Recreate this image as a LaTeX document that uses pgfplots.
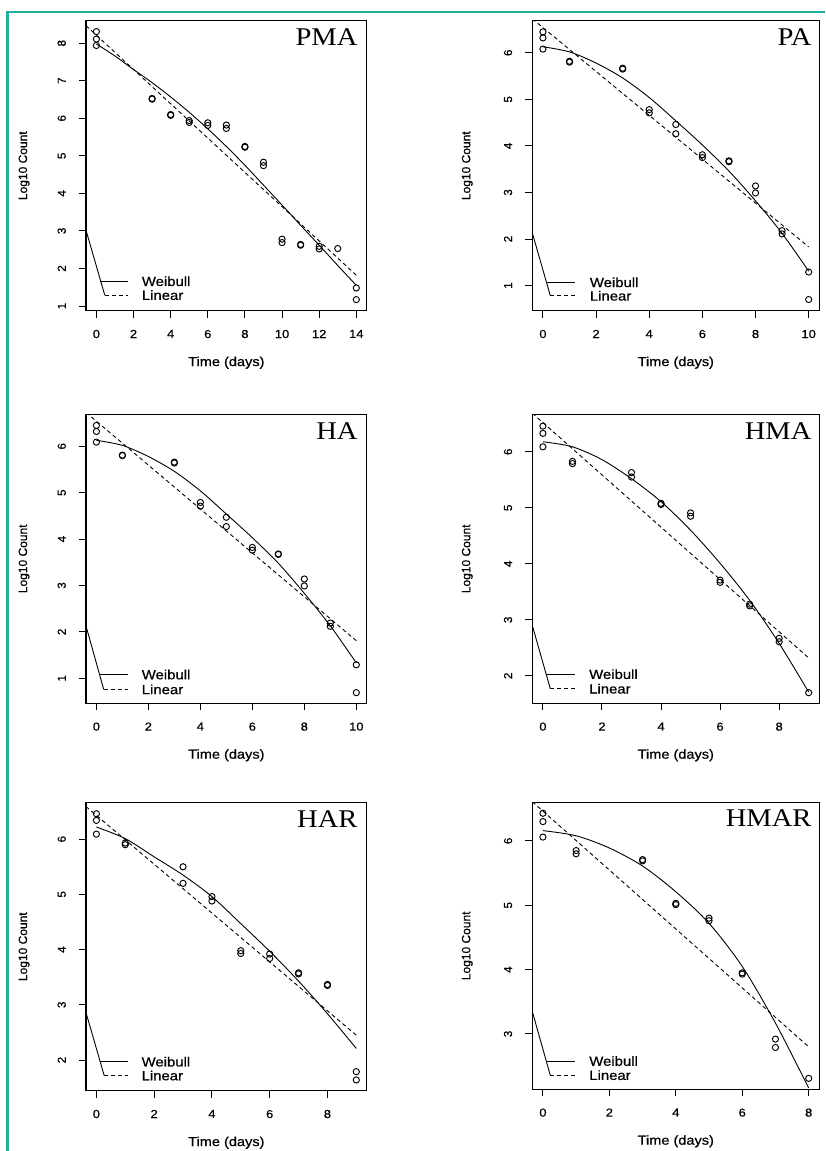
\documentclass[border=0pt]{standalone}
\usepackage{fontspec}
\setmainfont{Liberation Sans}[FakeBold=0.5]
\newfontfamily\widesans{Liberation Sans}[FakeStretch=1.12, FakeBold=0.6]
\newfontfamily\widetitle{Liberation Serif}[FakeStretch=1.12]
\usepackage{pgfplots}
\pgfplotsset{compat=1.18}
\definecolor{frameteal}{HTML}{1FAF9B}

\newcommand\tickfnt{\widesans\fontsize{11.6}{12}\selectfont}
\newcommand\ytickfnt{\fontsize{11.6}{12}\selectfont}
\newcommand\labfnt{\widesans\fontsize{13}{14}\selectfont}
\newcommand\ylabfnt{\fontsize{12}{13}\selectfont}
\newcommand\legfnt{\widesans\fontsize{13.3}{14}\selectfont}
\newcommand\titfnt{\widetitle\fontsize{25.5}{26}\selectfont}

\pgfplotsset{
  rpanel/.style={
    scale only axis, anchor=south west,
    axis line style={line width=1.1pt},
    tick align=outside, major tick length=7pt,
    xtick pos=left, ytick pos=left,
    every tick/.append style={line width=1pt, black},
    /pgf/number format/assume math mode=true,
    xticklabel style={font=\tickfnt, anchor=north, inner sep=0pt},
    yticklabel style={font=\ytickfnt, rotate=90, anchor=south, inner sep=0pt},
    xticklabel shift=12pt, yticklabel shift=13pt,
    xlabel={Time (days)}, ylabel={Log10 Count},
    xlabel style={font=\labfnt, at={(axis description cs:0.5,0)}, anchor=center, yshift=-52pt},
    ylabel style={font=\ylabfnt, anchor=center},
  },
  pts/.style={only marks, mark=o, mark size=3.1pt, line width=0.95pt, black},
  wb/.style={smooth, line width=0.9pt, black, no marks},
  lin/.style={line width=0.9pt, black, no marks, dash pattern=on 4pt off 3pt},
  solidl/.style={line width=0.9pt, black, no marks},
}

\begin{document}
\begin{tikzpicture}
\useasboundingbox (0,0) rectangle (825pt,-1151pt);
\draw[frameteal, line width=2.6pt] (7.2pt,-1151pt) -- (7.2pt,-12pt) -- (825pt,-12pt);

% PMA
\begin{axis}[rpanel, at={(86pt,-310.7pt)}, width=280.7pt, height=290pt,
  xmin=-0.56, xmax=14.56, ymin=0.875, ymax=8.60,
  xtick={0,2,...,14}, ytick={1,...,8},
  ylabel style={at={(axis description cs:-0.2206,0.5)}}]
\addplot[pts] coordinates {(0,8.31) (0,8.11) (0,7.94) (3,6.53) (3,6.51) (4,6.10) (4,6.08)
  (5,5.94) (5,5.89) (6,5.88) (6,5.81) (7,5.82) (7,5.73) (8,5.25) (8,5.23) (9,4.83) (9,4.74)
  (10,2.78) (10,2.69) (11,2.64) (11,2.62) (12,2.59) (12,2.52) (13,2.53) (14,1.48) (14,1.17)};
\addplot[wb] coordinates {(0,7.98) (1,7.66) (2,7.30) (3,6.95) (4,6.57) (5,6.16) (6,5.72) (7,5.25)
  (8,4.75) (9,4.22) (10,3.69) (11,3.15) (12,2.62) (13,2.08) (14,1.55)};
\addplot[lin] coordinates {(-0.56,8.47) (14,1.82)};
\addplot[solidl] coordinates {(-0.56,3.02) (0.45,1.29)};
\addplot[solidl] coordinates {(0.18,1.66) (1.71,1.66)};
\addplot[lin] coordinates {(0.45,1.29) (1.71,1.29)};
\node[anchor=west, font=\legfnt, inner sep=0pt] at (axis cs:2.44,1.66) {Weibull};
\node[anchor=west, font=\legfnt, inner sep=0pt] at (axis cs:2.44,1.29) {Linear};
\node[anchor=base east, font=\titfnt, inner sep=0pt] at ([xshift=-9pt,yshift=-24.4pt]rel axis cs:1,1) {PMA};
\end{axis}

% PA
\begin{axis}[rpanel, at={(532.3pt,-310.7pt)}, width=287pt, height=290pt,
  xmin=-0.4, xmax=10.4, ymin=0.46, ymax=6.69,
  xtick={0,2,...,10}, ytick={1,...,6},
  ylabel style={at={(axis description cs:-0.2265,0.5)}}]
\addplot[pts] coordinates {(0,6.45) (0,6.32) (0,6.08) (1,5.82) (1,5.80) (3,5.67) (3,5.65)
  (4,4.78) (4,4.71) (5,4.46) (5,4.26) (6,3.81) (6,3.75) (7,3.68) (7,3.66) (8,3.14) (8,2.99)
  (9,2.18) (9,2.11) (10,1.29) (10,0.70)};
\addplot[wb] coordinates {(0,6.13) (1,6.02) (2,5.78) (3,5.46) (4,5.04) (5,4.54) (6,4.02) (7,3.46)
  (8,2.82) (9,2.12) (10,1.31)};
\addplot[lin] coordinates {(-0.4,6.73) (10,1.83)};
\addplot[solidl] coordinates {(-0.4,2.13) (0.28,0.78)};
\addplot[solidl] coordinates {(0.13,1.07) (1.22,1.07)};
\addplot[lin] coordinates {(0.28,0.78) (1.22,0.78)};
\node[anchor=west, font=\legfnt, inner sep=0pt] at (axis cs:1.76,1.07) {Weibull};
\node[anchor=west, font=\legfnt, inner sep=0pt] at (axis cs:1.76,0.78) {Linear};
\node[anchor=base east, font=\titfnt, inner sep=0pt] at ([xshift=-7.6pt,yshift=-24.4pt]rel axis cs:1,1) {PA};
\end{axis}

% HA
\begin{axis}[rpanel, at={(86pt,-703.3pt)}, width=280.7pt, height=289pt,
  xmin=-0.4, xmax=10.4, ymin=0.46, ymax=6.69,
  xtick={0,2,...,10}, ytick={1,...,6},
  ylabel style={at={(axis description cs:-0.2206,0.5)}}]
\addplot[pts] coordinates {(0,6.45) (0,6.32) (0,6.09) (1,5.81) (1,5.80) (3,5.66) (3,5.64)
  (4,4.79) (4,4.71) (5,4.47) (5,4.27) (6,3.82) (6,3.76) (7,3.68) (7,3.67) (8,3.14) (8,2.99)
  (9,2.19) (9,2.12) (10,1.29) (10,0.69)};
\addplot[wb] coordinates {(0,6.13) (1,6.02) (2,5.78) (3,5.46) (4,5.04) (5,4.54) (6,4.03) (7,3.48)
  (8,2.83) (9,2.13) (10,1.33)};
\addplot[lin] coordinates {(-0.4,6.73) (10,1.81)};
\addplot[solidl] coordinates {(-0.4,2.13) (0.28,0.76)};
\addplot[solidl] coordinates {(0.13,1.08) (1.22,1.08)};
\addplot[lin] coordinates {(0.28,0.76) (1.22,0.76)};
\node[anchor=west, font=\legfnt, inner sep=0pt] at (axis cs:1.74,1.08) {Weibull};
\node[anchor=west, font=\legfnt, inner sep=0pt] at (axis cs:1.74,0.76) {Linear};
\node[anchor=base east, font=\titfnt, inner sep=0pt] at ([xshift=-9pt,yshift=-25.5pt]rel axis cs:1,1) {HA};
\end{axis}

% HMA
\begin{axis}[rpanel, at={(532.3pt,-703.3pt)}, width=287pt, height=289pt,
  xmin=-0.36, xmax=9.36, ymin=1.51, ymax=6.67,
  xtick={0,2,...,8}, ytick={2,...,6},
  ylabel style={at={(axis description cs:-0.2265,0.5)}}]
\addplot[pts] coordinates {(0,6.46) (0,6.33) (0,6.09) (1,5.83) (1,5.79) (3,5.63) (3,5.55)
  (4,5.08) (4,5.06) (5,4.91) (5,4.85) (6,3.71) (6,3.67) (7,3.28) (7,3.25) (8,2.67) (8,2.61) (9,1.70)};
\addplot[wb] coordinates {(0,6.18) (1,6.09) (2,5.86) (3,5.52) (4,5.11) (5,4.60) (6,4.01) (7,3.35)
  (8,2.58) (9,1.71)};
\addplot[lin] coordinates {(-0.36,6.69) (9,2.32)};
\addplot[solidl] coordinates {(-0.36,2.90) (0.25,1.77)};
\addplot[solidl] coordinates {(0.11,2.03) (1.09,2.03)};
\addplot[lin] coordinates {(0.25,1.77) (1.09,1.77)};
\node[anchor=west, font=\legfnt, inner sep=0pt] at (axis cs:1.56,2.03) {Weibull};
\node[anchor=west, font=\legfnt, inner sep=0pt] at (axis cs:1.56,1.77) {Linear};
\node[anchor=base east, font=\titfnt, inner sep=0pt] at ([xshift=-7.6pt,yshift=-25.5pt]rel axis cs:1,1) {HMA};
\end{axis}

% HAR
\begin{axis}[rpanel, at={(86pt,-1090.7pt)}, width=280.7pt, height=288pt,
  xmin=-0.36, xmax=9.36, ymin=1.445, ymax=6.66,
  xtick={0,2,...,8}, ytick={2,...,6},
  ylabel style={at={(axis description cs:-0.2206,0.5)}}]
\addplot[pts] coordinates {(0,6.46) (0,6.34) (0,6.09) (1,5.93) (1,5.90) (3,5.50) (3,5.20)
  (4,4.96) (4,4.88) (5,3.98) (5,3.93) (6,3.92) (6,3.84) (7,3.58) (7,3.56) (8,3.37) (8,3.35)
  (9,1.79) (9,1.64)};
\addplot[wb] coordinates {(0,6.22) (1,6.01) (2,5.68) (3,5.35) (4,4.96) (5,4.47) (6,3.97) (7,3.43)
  (8,2.84) (9,2.21)};
\addplot[lin] coordinates {(-0.36,6.59) (9,2.45)};
\addplot[solidl] coordinates {(-0.36,2.86) (0.27,1.72)};
\addplot[solidl] coordinates {(0.12,1.97) (1.10,1.97)};
\addplot[lin] coordinates {(0.27,1.72) (1.10,1.72)};
\node[anchor=west, font=\legfnt, inner sep=0pt] at (axis cs:1.56,1.97) {Weibull};
\node[anchor=west, font=\legfnt, inner sep=0pt] at (axis cs:1.56,1.72) {Linear};
\node[anchor=base east, font=\titfnt, inner sep=0pt] at ([xshift=-9pt,yshift=-24.4pt]rel axis cs:1,1) {HAR};
\end{axis}

% HMAR
\begin{axis}[rpanel, at={(532.3pt,-1089.3pt)}, width=287pt, height=287pt,
  xmin=-0.32, xmax=8.32, ymin=2.14, ymax=6.60,
  xtick={0,2,...,8}, ytick={3,...,6},
  ylabel style={at={(axis description cs:-0.2265,0.5)}}]
\addplot[pts] coordinates {(0,6.43) (0,6.30) (0,6.06) (1,5.85) (1,5.80) (3,5.71) (3,5.69)
  (4,5.03) (4,5.01) (5,4.80) (5,4.76) (6,3.95) (6,3.93) (7,2.92) (7,2.79) (8,2.31)};
\addplot[wb] coordinates {(0,6.16) (1,6.08) (2,5.89) (3,5.61) (4,5.21) (5,4.72) (6,4.05) (7,3.17)
  (8,2.16)};
\addplot[lin] coordinates {(-0.32,6.61) (8,2.80)};
\addplot[solidl] coordinates {(-0.32,3.35) (0.22,2.36)};
\addplot[solidl] coordinates {(0.10,2.58) (0.98,2.58)};
\addplot[lin] coordinates {(0.22,2.36) (0.98,2.36)};
\node[anchor=west, font=\legfnt, inner sep=0pt] at (axis cs:1.39,2.58) {Weibull};
\node[anchor=west, font=\legfnt, inner sep=0pt] at (axis cs:1.39,2.36) {Linear};
\node[anchor=base east, font=\titfnt, inner sep=0pt] at ([xshift=-7.6pt,yshift=-24.4pt]rel axis cs:1,1) {HMAR};
\end{axis}
\end{tikzpicture}
\end{document}
